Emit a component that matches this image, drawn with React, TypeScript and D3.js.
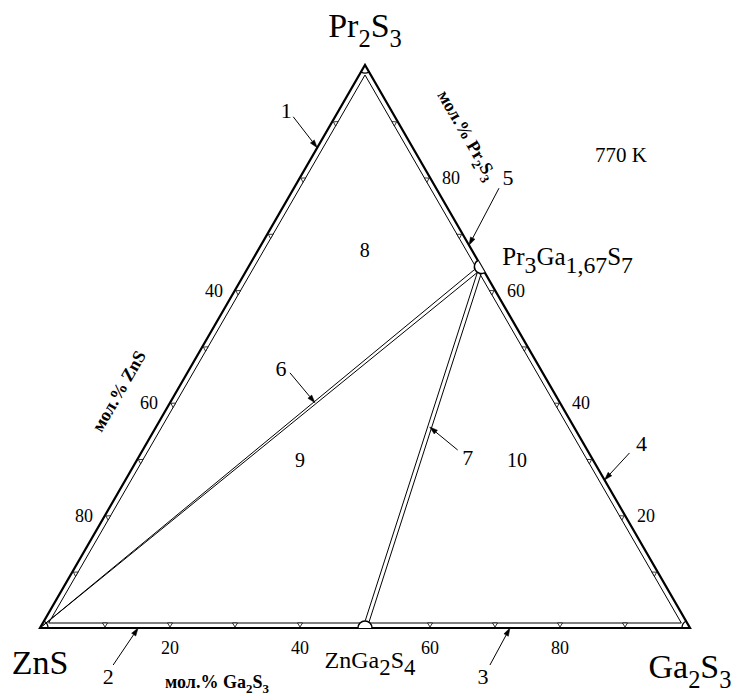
import React from "react";
import * as d3 from "d3";

const W = 733;
const H = 693;

// ---- data ----
const vertexNames = ["ZnS", "Ga2S3", "Pr2S3"];
const vertexGa = [0, 100, 0];
const vertexPr = [0, 0, 100];

const compoundNames = ["Pr3Ga1,67S7", "ZnGa2S4"];
const compoundGa = [35.8, 50];
const compoundPr = [64.2, 0];

const tieFrom = ["Pr3Ga1,67S7", "Pr3Ga1,67S7"];
const tieTo = ["ZnS", "ZnGa2S4"];

const gridTicks = [10, 20, 30, 40, 50, 60, 70, 80, 90];
const bottomLabels = [20, 40, 60, 80]; // mol.% Ga2S3
const rightLabels = [20, 40, 60, 80]; // mol.% Pr2S3
const leftLabels = [40, 60, 80]; // mol.% ZnS

const fieldNames = ["8", "9", "10"];
const fieldGa = [16.4, 25.1, 58.5];
const fieldPr = [67.1, 29.8, 29.8];

const calloutNames = ["1", "2", "3", "4", "5", "6", "7"];
const calloutGa = [0, 15.1, 72.3, 73.7, 32, 22.3, 42.1];
const calloutPr = [85.3, 0, 0, 26.3, 68, 40, 35.7];

const temperature = "770 K";
const axisTitleBottom = "мол.% Ga2S3";
const axisTitleRight = "мол.% Pr2S3";
const axisTitleLeft = "мол.% ZnS";

// ---- layout ----
const callLabelOff = [[-31, -37], [-30, 48], [-27, 48], [37, -37], [39, -68], [-34, -35], [38, 30]];
const callStartOff = [[-24, -31], [-25, 37], [-20, 37], [25, -27], [30, -57], [-25, -30], [28, 23]];

const FONT = "'Liberation Serif', 'Times New Roman', serif";

const xS = d3.scaleLinear().domain([0, 100]).range([40, 690]);
const yS = d3.scaleLinear().domain([0, 100]).range([628, 65]);
const pt = (ga: number, pr: number): [number, number] => [xS(ga + pr / 2), yS(pr)];

function Formula({ text, x, y, size, sub = 0.72, shift = 0.28, anchor = "middle", weight = "normal", transform }: any) {
  const tokens = text.match(/[0-9,]+|[^0-9,]+/g) || [];
  let inSub = false;
  const sh = size * shift;
  return (
    <text x={x} y={y} fontSize={size} fontFamily={FONT} textAnchor={anchor} fontWeight={weight} transform={transform}>
      {tokens.map((t: string, i: number) => {
        const isSub = /^[0-9,]+$/.test(t);
        let dy = 0;
        if (isSub && !inSub) dy = sh;
        if (!isSub && inSub) dy = -sh;
        inSub = isSub;
        return (
          <tspan key={i} dy={dy} fontSize={isSub ? size * sub : size}>
            {t}
          </tspan>
        );
      })}
    </text>
  );
}

export default function App() {
  const V = vertexNames.map((_, i) => pt(vertexGa[i], vertexPr[i]));
  const [A, B, C] = V;
  const G: [number, number] = [(A[0] + B[0] + C[0]) / 3, (A[1] + B[1] + C[1]) / 3];
  const inr = A[1] - G[1];
  const inset = 5;
  const k = (inr - inset) / inr;
  const inner = V.map((p) => [G[0] + (p[0] - G[0]) * k, G[1] + (p[1] - G[1]) * k]);

  const line = d3.line();
  const outerPath = line([A, B, C, A] as any) + "Z";
  const innerPath = line([...inner, inner[0]] as any) + "Z";

  const sides = [
    { f: (v: number) => pt(v, 0), n: [0, -1], u: [1, 0] },
    { f: (v: number) => pt(100 - v, v), n: [-0.866, 0.5], u: [-0.5, -0.866] },
    { f: (v: number) => pt(0, 100 - v), n: [0.866, 0.5], u: [0.5, -0.866] },
  ];

  const tickTris: string[] = [];
  sides.forEach((s) => {
    gridTicks.forEach((v) => {
      const T = s.f(v);
      const p1 = [T[0] + s.n[0] * 1, T[1] + s.n[1] * 1];
      const p2 = [T[0] + s.n[0] * 5 + s.u[0] * 2.5, T[1] + s.n[1] * 5 + s.u[1] * 2.5];
      const p3 = [T[0] + s.n[0] * 5 - s.u[0] * 2.5, T[1] + s.n[1] * 5 - s.u[1] * 2.5];
      tickTris.push(line([p1, p2, p3] as any) + "Z");
    });
  });

  const arcR = 8;
  const cornerArc = (p: number[], a0: number, a1: number) => {
    const pa = d3.path();
    pa.moveTo(p[0] + arcR * Math.cos(a0), p[1] + arcR * Math.sin(a0));
    pa.arc(p[0], p[1], arcR, a0, a1, false);
    return pa.toString();
  };
  const deg = Math.PI / 180;
  const corners = [
    cornerArc(A, -60 * deg, 0),
    cornerArc(B, 180 * deg, 240 * deg),
    cornerArc(C, 60 * deg, 120 * deg),
  ];

  const compPos = (name: string): [number, number] => {
    const i = compoundNames.indexOf(name);
    if (i >= 0) return pt(compoundGa[i], compoundPr[i]);
    const j = vertexNames.indexOf(name);
    return pt(vertexGa[j], vertexPr[j]);
  };

  const P = compPos("Pr3Ga1,67S7");
  const M = compPos("ZnGa2S4");
  const nodeR = 7;
  const nodeArc = (p: number[], a0: number, a1: number) => {
    const pa = d3.path();
    pa.moveTo(p[0] + nodeR * Math.cos(a0), p[1] + nodeR * Math.sin(a0));
    pa.arc(p[0], p[1], nodeR, a0, a1, false);
    return pa.toString();
  };
  const nodes = [nodeArc(P, 60 * deg, 240 * deg), nodeArc(M, 180 * deg, 360 * deg)];

  const ties: string[] = [];
  tieFrom.forEach((f, i) => {
    const p0 = compPos(f);
    const p1 = compPos(tieTo[i]);
    const dx = p1[0] - p0[0];
    const dy = p1[1] - p0[1];
    const L = Math.hypot(dx, dy);
    const ux = dx / L, uy = dy / L;
    const nx = -uy, ny = ux;
    const toVertex = vertexNames.includes(tieTo[i]);
    [-2, 2].forEach((o) => {
      const s = [p0[0] + ux * nodeR + nx * o, p0[1] + uy * nodeR + ny * o];
      const e = toVertex
        ? [p1[0] + 3 * -ux, p1[1] + 3 * -uy]
        : [p1[0] - ux * nodeR + nx * o, p1[1] - uy * nodeR + ny * o];
      ties.push(line([s, e] as any) as string);
    });
  });

  const callouts = calloutNames.map((name, i) => {
    const tip = pt(calloutGa[i], calloutPr[i]);
    const st = [tip[0] + callStartOff[i][0], tip[1] + callStartOff[i][1]];
    const lab = [tip[0] + callLabelOff[i][0], tip[1] + callLabelOff[i][1]];
    const dx = tip[0] - st[0], dy = tip[1] - st[1];
    const L = Math.hypot(dx, dy);
    const ux = dx / L, uy = dy / L;
    const hl = 8, hw = 2.5;
    const b = [tip[0] - ux * hl, tip[1] - uy * hl];
    const head = line([tip, [b[0] - uy * hw, b[1] + ux * hw], [b[0] + uy * hw, b[1] - ux * hw]] as any) + "Z";
    return { name, tip, st, lab, head, b };
  });

  const tickFont = 18;

  return (
    <svg width={W} height={H} style={{ position: "absolute", left: 0, top: 0, background: "#fff" }}>
      <rect width={W} height={H} fill="#fff" />
      <path d={outerPath} fill="none" stroke="#000" strokeWidth={2.2} strokeLinejoin="miter" />
      <path d={innerPath} fill="none" stroke="#000" strokeWidth={1} />
      {tickTris.map((d, i) => (
        <path key={i} d={d} fill="#fff" stroke="#000" strokeWidth={0.8} />
      ))}
      {corners.map((d, i) => (
        <path key={i} d={d} fill="none" stroke="#000" strokeWidth={1.2} />
      ))}
      {ties.map((d, i) => (
        <path key={i} d={d} fill="none" stroke="#000" strokeWidth={1} />
      ))}
      {nodes.map((d, i) => (
        <path key={i} d={d} fill="#fff" stroke="#000" strokeWidth={1.5} />
      ))}

      {bottomLabels.map((v) => {
        const p = sides[0].f(v);
        return (
          <text key={"b" + v} x={p[0]} y={p[1] + 20} fontSize={tickFont} fontFamily={FONT} textAnchor="middle" dy="0.35em">
            {v}
          </text>
        );
      })}
      {rightLabels.map((v) => {
        const p = sides[1].f(v);
        return (
          <text key={"r" + v} x={p[0] + 21} y={p[1]} fontSize={tickFont} fontFamily={FONT} textAnchor="middle" dy="0.35em">
            {v}
          </text>
        );
      })}
      {leftLabels.map((v) => {
        const p = sides[2].f(v);
        return (
          <text key={"l" + v} x={p[0] - 21} y={p[1]} fontSize={tickFont} fontFamily={FONT} textAnchor="middle" dy="0.35em">
            {v}
          </text>
        );
      })}

      <Formula text={axisTitleRight} x={0} y={0} size={18} weight="bold" transform={`translate(462,138) rotate(60)`} />
      <Formula text={axisTitleLeft} x={0} y={0} size={18} weight="bold" transform={`translate(124,394) rotate(-60)`} />
      <Formula text={axisTitleBottom} x={165} y={688} size={18} weight="bold" anchor="start" />

      <Formula text={vertexNames[2]} x={C[0]} y={37} size={34} />
      <Formula text={vertexNames[0]} x={A[0]} y={674} size={34} />
      <Formula text={vertexNames[1]} x={B[0]} y={678} size={34} />

      <Formula text={compoundNames[0]} x={P[0] + 21} y={265} size={25} sub={0.95} shift={0.3} anchor="start" />
      <Formula text={compoundNames[1]} x={M[0] + 5} y={668} size={24} sub={0.95} shift={0.3} />

      {fieldNames.map((n, i) => {
        const p = pt(fieldGa[i], fieldPr[i]);
        return (
          <text key={n} x={p[0]} y={p[1]} fontSize={20} fontFamily={FONT} textAnchor="middle" dy="0.35em">
            {n}
          </text>
        );
      })}

      <text x={621} y={155} fontSize={21} fontFamily={FONT} textAnchor="middle" dy="0.35em">
        {temperature}
      </text>

      {callouts.map((c) => (
        <g key={c.name}>
          <line x1={c.st[0]} y1={c.st[1]} x2={c.b[0]} y2={c.b[1]} stroke="#000" strokeWidth={1} />
          <path d={c.head} fill="#000" stroke="#000" strokeWidth={0.5} />
          <text x={c.lab[0]} y={c.lab[1]} fontSize={22} fontFamily={FONT} textAnchor="middle" dy="0.35em">
            {c.name}
          </text>
        </g>
      ))}
    </svg>
  );
}
